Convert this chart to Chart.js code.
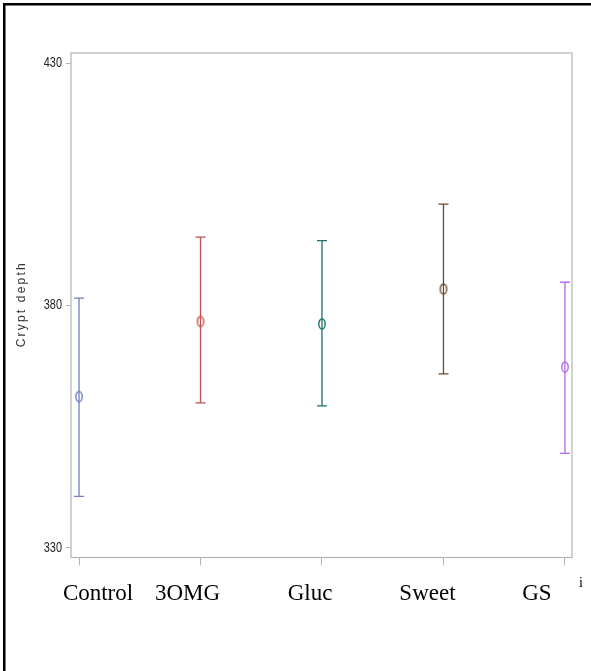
<!DOCTYPE html>
<html>
<head>
<meta charset="utf-8">
<script src="https://cdn.jsdelivr.net/npm/chart.js@4"></script>
<style>
  html, body { margin: 0; padding: 0; background: #fff; }
  #wrap { width: 591px; height: 671px; }
</style>
</head>
<body>
<div id="wrap"><canvas id="chart" width="591" height="671"></canvas></div>
<script>
// =========================================================================
// Data
// =========================================================================
const categories = ["Control", "3OMG", "Gluc", "Sweet", "GS"];
const means = [361.2, 376.7, 376.2, 383.4, 367.3];
const lowers = [340.6, 359.9, 359.3, 365.9, 349.5];
const uppers = [381.5, 394.1, 393.4, 400.9, 384.8];
const yTicks = [330, 380, 430];
const yTitle = "Crypt depth";
const colors = ["#6f7fbf", "#c0504d", "#1b7070", "#6b4a2e", "#b26af2"];

// label nudges (the category names sit a bit off their tick marks)
const labelShift = [19, -13, -12, -16, -28];

// =========================================================================
// Helpers
// =========================================================================
function ellipseMarker(color) {
  const c = document.createElement("canvas");
  c.width = 10;
  c.height = 14;
  const ctx = c.getContext("2d");
  ctx.strokeStyle = color;
  ctx.lineWidth = 1.4;
  ctx.beginPath();
  ctx.ellipse(5, 7, 3.2, 5, 0, 0, Math.PI * 2);
  ctx.stroke();
  return c;
}

const errorBars = {
  id: "errorBars",
  beforeDatasetsDraw(chart) {
    const { ctx, scales } = chart;
    ctx.save();
    ctx.lineWidth = 1.3;
    categories.forEach((_, i) => {
      const x = scales.x.getPixelForValue(i);
      const yHi = scales.y.getPixelForValue(uppers[i]);
      const yLo = scales.y.getPixelForValue(lowers[i]);
      ctx.strokeStyle = colors[i];
      ctx.beginPath();
      ctx.moveTo(x, yHi);
      ctx.lineTo(x, yLo);
      ctx.moveTo(x - 5, yHi);
      ctx.lineTo(x + 5, yHi);
      ctx.moveTo(x - 5, yLo);
      ctx.lineTo(x + 5, yLo);
      ctx.stroke();
    });
    ctx.restore();
  },
};

const decorations = {
  id: "decorations",
  beforeDraw(chart) {
    const { ctx } = chart;
    ctx.save();
    ctx.fillStyle = "#fff";
    ctx.fillRect(0, 0, chart.width, chart.height);
    // outer black frame (top + left)
    ctx.fillStyle = "#000";
    ctx.fillRect(3, 3, chart.width - 3, 2.5);
    ctx.fillRect(3, 3, 2.5, chart.height - 3);
    ctx.restore();
  },
  afterDraw(chart) {
    const { ctx, chartArea: a, scales } = chart;
    ctx.save();
    // plot frame
    ctx.strokeStyle = "#b4b4b4";
    ctx.lineWidth = 1.2;
    ctx.strokeRect(a.left, a.top, a.right - a.left, a.bottom - a.top);

    // y tick labels, narrow face
    ctx.fillStyle = "#222";
    ctx.font = "14px 'Liberation Sans', Arial, sans-serif";
    ctx.textAlign = "right";
    ctx.textBaseline = "middle";
    yTicks.forEach((v) => {
      const y = scales.y.getPixelForValue(v);
      ctx.setTransform(0.78, 0, 0, 1, 62, y);
      ctx.fillText(String(v), 0, 0);
    });
    ctx.setTransform(1, 0, 0, 1, 0, 0);

    // y title, spaced out
    ctx.fillStyle = "#333";
    ctx.font = "12px 'Liberation Sans', Arial, sans-serif";
    ctx.letterSpacing = "2.2px";
    ctx.textAlign = "center";
    ctx.textBaseline = "middle";
    ctx.translate(22, (a.top + a.bottom) / 2 - 1);
    ctx.rotate(-Math.PI / 2);
    ctx.fillText(yTitle, 0, 0);
    ctx.setTransform(1, 0, 0, 1, 0, 0);
    ctx.letterSpacing = "0px";

    // category labels
    ctx.fillStyle = "#000";
    ctx.font = "23px 'Liberation Serif', 'Times New Roman', serif";
    ctx.textAlign = "center";
    ctx.textBaseline = "alphabetic";
    categories.forEach((c, i) => {
      ctx.fillText(c, scales.x.getPixelForValue(i) + labelShift[i], 600);
    });
    ctx.font = "14px 'Liberation Serif', 'Times New Roman', serif";
    ctx.fillText("i", 581, 587);
    ctx.restore();
  },
};

// =========================================================================
// Chart
// =========================================================================
new Chart(document.getElementById("chart"), {
  type: "scatter",
  data: {
    datasets: [
      {
        data: means.map((m, i) => ({ x: i, y: m })),
        pointStyle: colors.map(ellipseMarker),
        pointRadius: 5,
        pointHoverRadius: 5,
        showLine: false,
      },
    ],
  },
  options: {
    responsive: false,
    animation: false,
    events: [],
    layout: { padding: { top: 53, right: 19, left: 0, bottom: 0 } },
    plugins: {
      legend: { display: false },
      tooltip: { enabled: false },
    },
    scales: {
      x: {
        type: "linear",
        min: -0.066,
        max: 4.058,
        afterBuildTicks: (s) => {
          s.ticks = categories.map((_, i) => ({ value: i }));
        },
        afterFit: (s) => {
          s.height = 113.5;
        },
        border: { display: false },
        grid: {
          drawOnChartArea: false,
          drawTicks: true,
          tickLength: 8,
          color: "#b4b4b4",
          lineWidth: 1,
        },
        ticks: { callback: () => "", padding: 0 },
      },
      y: {
        type: "linear",
        min: 328,
        max: 432.1,
        afterBuildTicks: (s) => {
          s.ticks = yTicks.map((v) => ({ value: v }));
        },
        afterFit: (s) => {
          s.width = 71;
        },
        border: { display: false },
        grid: {
          drawOnChartArea: false,
          drawTicks: true,
          tickLength: 5,
          color: "#b4b4b4",
          lineWidth: 1,
        },
        ticks: { callback: () => "", padding: 4 },
      },
    },
  },
  plugins: [decorations, errorBars],
});
</script>
</body>
</html>
